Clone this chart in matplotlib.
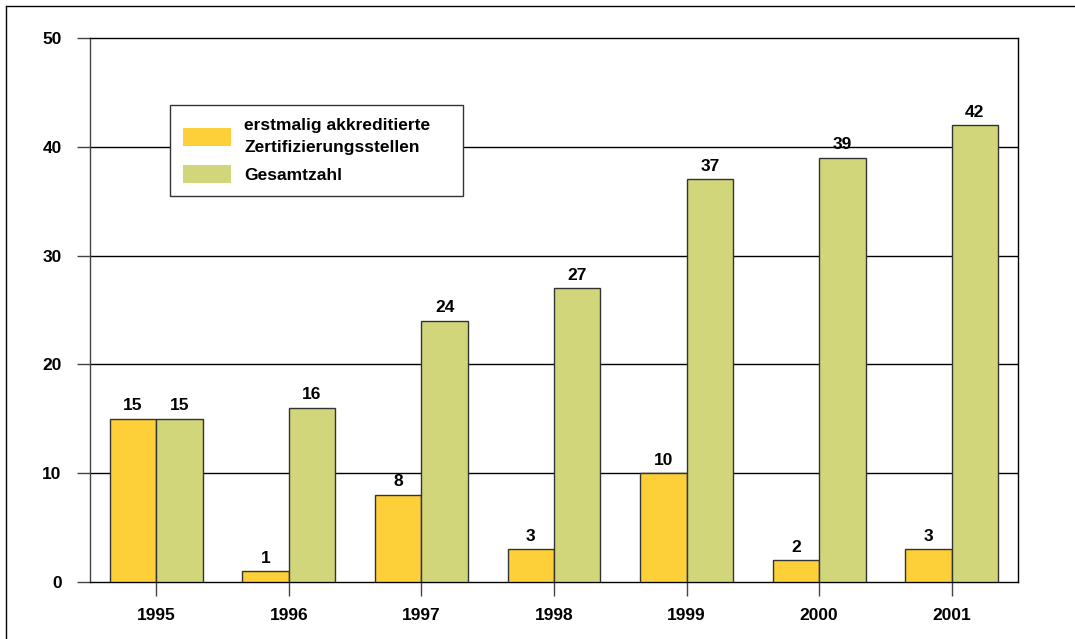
import matplotlib
matplotlib.use("Agg")
import matplotlib.pyplot as plt
from matplotlib.lines import Line2D
import numpy as np

plt.rcParams['font.family'] = ['Liberation Sans', 'DejaVu Sans']
plt.rcParams['font.weight'] = 'bold'

years = ['1995', '1996', '1997', '1998', '1999', '2000', '2001']
erstmalig = [15, 1, 8, 3, 10, 2, 3]
gesamt = [15, 16, 24, 27, 37, 39, 42]

label_erst = 'erstmalig akkreditierte\nZertifizierungsstellen'
label_ges = 'Gesamtzahl'

col_erst = '#FDCF38'
col_ges = '#D1D67A'
fs = 12.5

fig = plt.figure(figsize=(10.75, 6.39), dpi=100)
ax = fig.add_axes([0.0837, 0.0892, 0.8633, 0.8513])

x = np.arange(len(years))
w = 0.35

b1 = ax.bar(x - w / 2, erstmalig, w, color=col_erst, edgecolor='#333333',
            linewidth=1, label=label_erst, zorder=3)
b2 = ax.bar(x + w / 2, gesamt, w, color=col_ges, edgecolor='#333333',
            linewidth=1, label=label_ges, zorder=3)

for bars in (b1, b2):
    ax.bar_label(bars, padding=4, fontsize=fs, fontweight='bold')

ax.set_xlim(-0.5, len(years) - 0.5)
ax.set_ylim(0, 50)
ax.set_yticks(range(0, 51, 10))
ax.set_xticks(x)
ax.set_xticklabels(years)

# horizontal grid behind the bars
for yv in range(10, 50, 10):
    ax.axhline(yv, color='black', linewidth=1, zorder=1)

for sp in ax.spines.values():
    sp.set_linewidth(1)
    sp.set_color('black')
ax.spines['left'].set_color('#444444')

ax.tick_params(axis='y', length=9.5, width=1, pad=11, color='#444444',
               labelsize=fs)
ax.tick_params(axis='x', length=10, width=1, pad=9, color='#444444',
               labelsize=fs)
for lab in ax.get_xticklabels() + ax.get_yticklabels():
    lab.set_fontweight('bold')

leg = ax.legend(loc='upper left', bbox_to_anchor=(0.086, 0.711, 0.316, 0.166),
                mode='expand', fancybox=False, frameon=True, framealpha=1,
                edgecolor='#333333', fontsize=fs, handlelength=2.8,
                handleheight=1.25, handletextpad=0.75, borderpad=0.75,
                labelspacing=0.55, borderaxespad=0)
leg.get_frame().set_linewidth(1)
for h in leg.legend_handles:
    h.set_edgecolor('none')
for t in leg.get_texts():
    t.set_linespacing(1.6)
leg.set_zorder(5)

# outer frame on the left and top of the figure
fx = 6 / 1075
fy = 1 - 6 / 639
fig.add_artist(Line2D([fx, fx], [0, fy], color='black', linewidth=1,
                      transform=fig.transFigure))
fig.add_artist(Line2D([fx, 1], [fy, fy], color='black', linewidth=1,
                      transform=fig.transFigure))

fig.savefig('out.png', dpi=100)
